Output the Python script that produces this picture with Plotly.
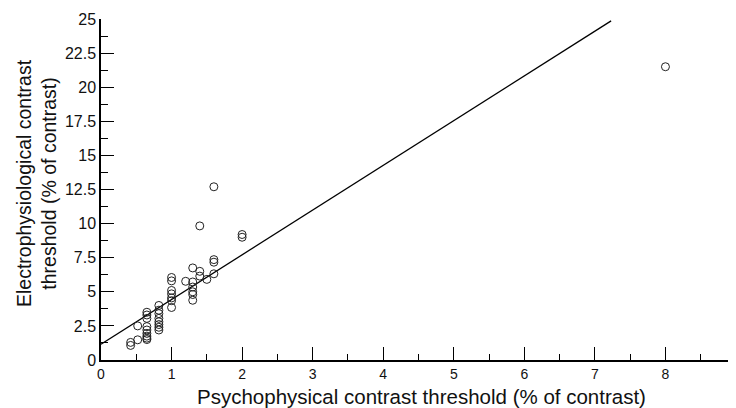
import plotly.graph_objects as go

# Psychophysical threshold (x) and electrophysiological threshold (y), % of contrast
psycho = [0.42, 0.42,
          0.52, 0.52,
          0.65, 0.65, 0.65, 0.65, 0.65, 0.65, 0.65, 0.65, 0.65,
          0.82, 0.82, 0.82, 0.82, 0.82, 0.82, 0.82, 0.82,
          1.0, 1.0, 1.0, 1.0, 1.0, 1.0, 1.0,
          1.2,
          1.3, 1.3, 1.3, 1.3, 1.3, 1.3,
          1.4, 1.4, 1.4,
          1.5,
          1.6, 1.6, 1.6, 1.6,
          2.0, 2.0,
          8.0]
electro = [1.07, 1.29,
           1.48, 2.5,
           3.5, 3.3, 3.05, 2.45, 2.2, 1.95, 1.75, 1.6, 1.5,
           4.0, 3.65, 3.4, 3.05, 2.8, 2.6, 2.4, 2.2,
           6.05, 5.8, 5.1, 4.85, 4.55, 4.35, 3.85,
           5.77,
           6.75, 5.72, 5.35, 5.0, 4.8, 4.38,
           6.5, 6.15, 9.83,
           5.91,
           7.36, 7.17, 6.32, 12.7,
           9.2, 9.0,
           21.5]

# Regression line
fit_intercept = 1.15
fit_slope = 3.28
fit_x = [0.0, 7.23]
fit_y = [fit_intercept + fit_slope * v for v in fit_x]

x_ticks = [0, 1, 2, 3, 4, 5, 6, 7, 8, 9]
y_ticks = [0, 2.5, 5, 7.5, 10, 12.5, 15, 17.5, 20, 22.5, 25]
y_tick_labels = ["0", "2.5", "5", "7.5", "10", "12.5", "15", "17.5", "20", "22.5", "25"]

x_title = "Psychophysical contrast threshold (% of contrast)"
y_title = "Electrophysiological contrast<br>threshold (% of contrast)"

fig = go.Figure()
fig.add_trace(go.Scatter(x=fit_x, y=fit_y, mode="lines",
                         line=dict(color="black", width=1.3),
                         showlegend=False, hoverinfo="skip"))
fig.add_trace(go.Scatter(x=psycho, y=electro, mode="markers",
                         marker=dict(symbol="circle-open", size=8,
                                     color="#222", line=dict(width=1, color="#222")),
                         showlegend=False, cliponaxis=False))

font_family = "Liberation Sans, Arial, sans-serif"
fig.update_layout(
    width=728, height=400,
    margin=dict(l=93, r=0, t=11, b=48),
    paper_bgcolor="white", plot_bgcolor="white",
    font=dict(family=font_family, color="#111", size=14),
    xaxis=dict(range=[0, 9], tickvals=x_ticks, ticktext=[str(v) for v in x_ticks],
               automargin=False, ticklabeloverflow="allow",
               ticks="inside", ticklen=13, tickwidth=1, tickcolor="black",
               minor=dict(dtick=0.5, ticks="inside", ticklen=6, tickcolor="black", tickwidth=1),
               showline=True, linecolor="black", linewidth=1.5,
               showgrid=False, zeroline=False,
               tickfont=dict(size=14)),
    yaxis=dict(range=[0, 25], tickvals=y_ticks, ticktext=y_tick_labels,
               automargin=False,
               ticks="inside", ticklen=13, tickwidth=1, tickcolor="black",
               minor=dict(dtick=1.25, ticks="inside", ticklen=7, tickcolor="black", tickwidth=1),
               showline=True, linecolor="black", linewidth=1.5,
               showgrid=False, zeroline=False,
               tickfont=dict(size=16)),
    annotations=[
        dict(text=x_title, xref="paper", yref="paper", x=0.505, y=0,
             xanchor="center", yanchor="middle", yshift=-36, showarrow=False,
             font=dict(size=20.5, color="#111")),
        dict(text=y_title, xref="paper", yref="paper", x=0, y=0.519,
             xanchor="center", yanchor="middle", xshift=-65, showarrow=False,
             textangle=-90, font=dict(size=19.5, color="#111")),
    ],
)

fig.write_html("out.html")
